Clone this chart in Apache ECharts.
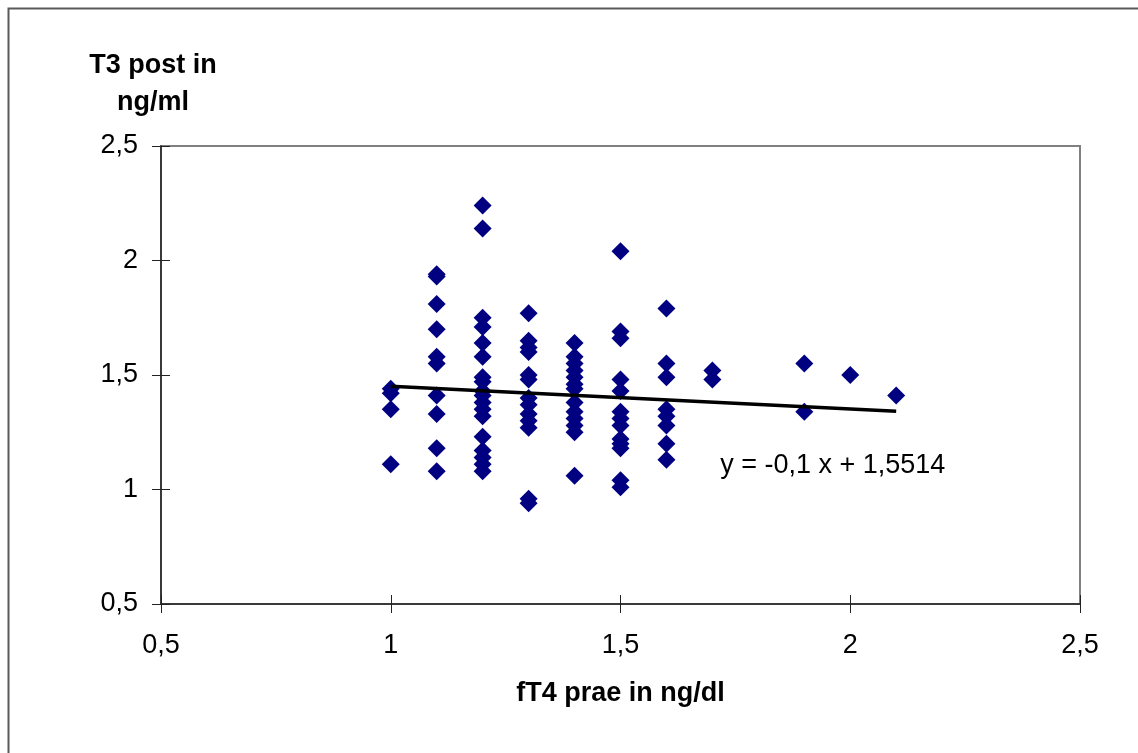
<!DOCTYPE html>
<html>
<head>
<meta charset="utf-8">
<script src="https://cdn.jsdelivr.net/npm/echarts@6/dist/echarts.min.js"></script>
<style>
  html, body { margin: 0; padding: 0; background: #ffffff; }
  #chart { width: 1138px; height: 753px; }
</style>
</head>
<body>
<div id="chart"></div>
<script>
// fT4 (pre) levels and the T3 (post) readings measured at each level
const fT4Levels = [1.0, 1.1, 1.2, 1.3, 1.4, 1.5, 1.6, 1.7, 1.9, 2.0, 2.1];
const t3AtLevel = [
  [1.44, 1.42, 1.35, 1.11],
  [1.94, 1.93, 1.81, 1.70, 1.58, 1.55, 1.41, 1.33, 1.18, 1.08],
  [2.24, 2.14, 1.75, 1.71, 1.64, 1.58, 1.49, 1.47, 1.43, 1.41, 1.38, 1.35, 1.32, 1.23, 1.17, 1.14, 1.11, 1.08],
  [1.77, 1.65, 1.62, 1.60, 1.50, 1.48, 1.40, 1.37, 1.33, 1.30, 1.27, 0.96, 0.94],
  [1.64, 1.58, 1.55, 1.52, 1.49, 1.46, 1.44, 1.38, 1.34, 1.31, 1.28, 1.25, 1.06],
  [2.04, 1.69, 1.66, 1.48, 1.43, 1.34, 1.31, 1.28, 1.22, 1.20, 1.18, 1.04, 1.01],
  [1.79, 1.55, 1.49, 1.35, 1.32, 1.28, 1.20, 1.13],
  [1.52, 1.48],
  [1.55, 1.34],
  [1.50],
  [1.41]
];

// Linear trend: y = slope * x + intercept, drawn over the fT4 range
const trendSlope = -0.1;
const trendIntercept = 1.5514;
const trendRange = [1.0, 2.1];

// Axis ranges and ticks
const xTicks = [0.5, 1, 1.5, 2, 2.5];
const yTicks = [0.5, 1, 1.5, 2, 2.5];

const xName = 'fT4 prae in ng/dl';
const yName = 'T3 post in\nng/ml';

const FONT = '"Liberation Sans", Arial, sans-serif';
const deComma = v => String(v).replace('.', ',');

const points = [];
fT4Levels.forEach((x, i) => t3AtLevel[i].forEach(y => points.push([x, y])));

const trendData = trendRange.map(x => [x, trendSlope * x + trendIntercept]);
const eqText = 'y = ' + deComma(trendSlope) + ' x + ' + deComma(trendIntercept);

const chart = echarts.init(document.getElementById('chart'), null, { renderer: 'canvas' });

const xBase = {
  type: 'value',
  min: xTicks[0],
  max: xTicks[xTicks.length - 1],
  interval: xTicks[1] - xTicks[0],
  position: 'bottom',
  splitLine: { show: false }
};
const yBase = {
  type: 'value',
  min: yTicks[0],
  max: yTicks[yTicks.length - 1],
  interval: yTicks[1] - yTicks[0],
  position: 'left',
  splitLine: { show: false }
};

const frame = {
  // outer chart frame
  type: 'rect',
  shape: { x: 8.5, y: 8.5, width: 1200, height: 800 },
  style: { fill: 'none', stroke: '#5a5a5a', lineWidth: 2 },
  silent: true,
  z: 0
};

chart.setOption({
  animation: false,
  backgroundColor: '#ffffff',
  grid: {
    left: 161, top: 146, right: 58, bottom: 149,
    show: true,
    borderColor: '#808080',
    borderWidth: 2,
    backgroundColor: '#ffffff'
  },
  xAxis: [
    Object.assign({}, xBase, {
      name: xName,
      nameLocation: 'middle',
      nameGap: 76,
      nameTextStyle: { fontFamily: FONT, fontSize: 27, fontWeight: 'bold', color: '#000' },
      axisLine: { lineStyle: { color: '#222', width: 1.5 } },
      axisTick: { length: 9, lineStyle: { color: '#222', width: 1 } },
      axisLabel: {
        margin: 28,
        fontFamily: FONT, fontSize: 27, color: '#000',
        formatter: v => deComma(v)
      }
    }),
    Object.assign({}, xBase, {
      axisLine: { show: false },
      axisTick: { inside: true, length: 9, lineStyle: { color: '#222', width: 1 } },
      axisLabel: { show: false }
    })
  ],
  yAxis: [
    Object.assign({}, yBase, {
      name: yName,
      nameLocation: 'end',
      nameGap: 25,
      nameTextStyle: {
        fontFamily: FONT, fontSize: 27, fontWeight: 'bold', color: '#000',
        lineHeight: 37, align: 'center', verticalAlign: 'bottom',
        padding: [0, 16, 0, 0]
      },
      axisLine: { lineStyle: { color: '#222', width: 1.5 } },
      axisTick: { length: 9, lineStyle: { color: '#222', width: 1 } },
      axisLabel: {
        margin: 23,
        fontFamily: FONT, fontSize: 27, color: '#000',
        formatter: v => deComma(v)
      }
    }),
    Object.assign({}, yBase, {
      axisLine: { show: false },
      axisTick: { inside: true, length: 9, lineStyle: { color: '#222', width: 1 } },
      axisLabel: { show: false }
    })
  ],
  series: [
    {
      name: 'T3 post',
      type: 'scatter',
      data: points,
      symbol: 'diamond',
      symbolSize: 18,
      itemStyle: { color: '#000080', opacity: 1 },
      z: 3
    },
    {
      name: 'Trend',
      type: 'line',
      data: trendData,
      symbol: 'none',
      lineStyle: { color: '#000000', width: 3.5 },
      z: 4
    }
  ],
  graphic: [frame]
});

// Place the trend equation inside the plot, beneath the right part of the line
const eqPos = chart.convertToPixel({ gridIndex: 0 }, [1.717, 1.105]);
chart.setOption({
  graphic: [
    frame,
    {
      type: 'text',
      x: eqPos[0],
      y: eqPos[1],
      style: {
        text: eqText,
        font: '27px ' + FONT,
        fill: '#000',
        textAlign: 'left',
        textVerticalAlign: 'middle'
      },
      z: 10
    }
  ]
});
</script>
</body>
</html>
